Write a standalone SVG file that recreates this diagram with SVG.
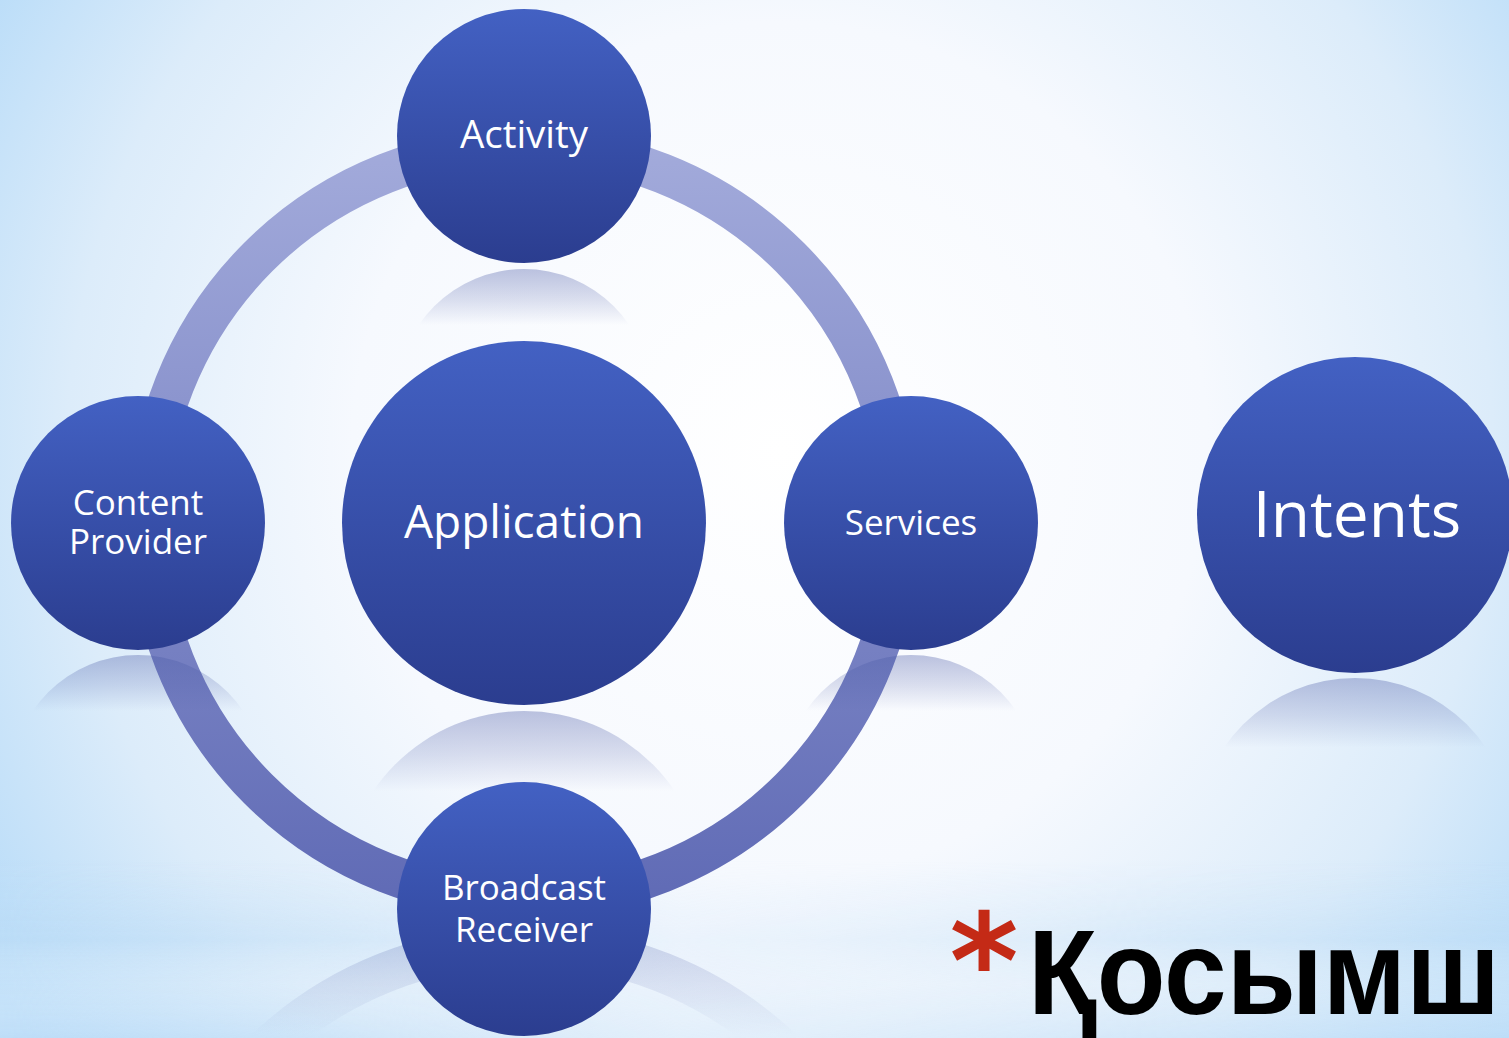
<svg xmlns="http://www.w3.org/2000/svg" width="1509" height="1038" viewBox="0 0 1509 1038">
  <defs>
    <radialGradient id="bg" gradientUnits="userSpaceOnUse" cx="780" cy="450" r="950">
      <stop offset="0" stop-color="#ffffff"/>
      <stop offset="0.45" stop-color="#f6f9fe"/>
      <stop offset="0.75" stop-color="#dcecfa"/>
      <stop offset="1" stop-color="#b4daf8"/>
    </radialGradient>
    <linearGradient id="band" x1="0" y1="0" x2="0" y2="1">
      <stop offset="0" stop-color="#c2e0f8" stop-opacity="0"/>
      <stop offset="0.45" stop-color="#bcdcf6" stop-opacity="0.6"/>
      <stop offset="0.7" stop-color="#e8f3fc" stop-opacity="0.3"/>
      <stop offset="1" stop-color="#c2dff8" stop-opacity="0.7"/>
    </linearGradient>
    <linearGradient id="bandMaskGrad" x1="0" y1="0" x2="1" y2="0">
      <stop offset="0" stop-color="#fff" stop-opacity="1"/>
      <stop offset="0.45" stop-color="#fff" stop-opacity="0.15"/>
      <stop offset="1" stop-color="#fff" stop-opacity="0.8"/>
    </linearGradient>
    <mask id="bandMask" maskUnits="userSpaceOnUse" x="0" y="860" width="1509" height="178">
      <rect x="0" y="860" width="1509" height="178" fill="url(#bandMaskGrad)"/>
    </mask>
    <linearGradient id="nodeFill" x1="0" y1="0" x2="0" y2="1">
      <stop offset="0" stop-color="#4361c3"/>
      <stop offset="1" stop-color="#2b3d8f"/>
    </linearGradient>
    <linearGradient id="reflFill" x1="0" y1="0" x2="0" y2="1">
      <stop offset="0" stop-color="#4a5aa6" stop-opacity="0.36"/>
      <stop offset="0.12" stop-color="#4a5aa6" stop-opacity="0.18"/>
      <stop offset="0.22" stop-color="#4a5aa6" stop-opacity="0"/>
    </linearGradient>
    <linearGradient id="ringStroke" gradientUnits="userSpaceOnUse" x1="0" y1="140" x2="0" y2="910">
      <stop offset="0" stop-color="#a3abdb"/>
      <stop offset="1" stop-color="#5f6ab5"/>
    </linearGradient>
    <linearGradient id="ringRefl" gradientUnits="userSpaceOnUse" x1="0" y1="925" x2="0" y2="1035">
      <stop offset="0" stop-color="#5a68ae" stop-opacity="0.28"/>
      <stop offset="1" stop-color="#5a68ae" stop-opacity="0"/>
    </linearGradient>
    <style>
      .node { fill: url(#nodeFill); }
      .refl { fill: url(#reflFill); }
      .lbl { font-family: "Open Sans", "Noto Sans", "DejaVu Sans", sans-serif; fill: #ffffff; text-anchor: middle; font-size: 35px; }
    </style>
  </defs>

  <!-- background -->
  <rect x="0" y="0" width="1509" height="1038" fill="url(#bg)"/>
  <rect x="0" y="860" width="1509" height="178" fill="url(#band)" mask="url(#bandMask)"/>

  <!-- connectors: ring and its reflection -->
  <g id="connectors">
    <circle cx="524" cy="1322" r="376" fill="none" stroke="url(#ringRefl)" stroke-width="40"/>
    <circle cx="524" cy="523" r="376" fill="none" stroke="url(#ringStroke)" stroke-width="40"/>
  </g>

  <!-- reflections -->
  <g id="reflections">
    <circle class="refl" cx="524" cy="396" r="127"/>
    <circle class="refl" cx="524" cy="893" r="182"/>
    <circle class="refl" cx="138" cy="782" r="127"/>
    <circle class="refl" cx="911" cy="782" r="127"/>
    <circle class="refl" cx="1355" cy="836" r="158"/>
  </g>

  <g id="activity">
    <circle class="node" cx="524" cy="136" r="127"/>
    <text class="lbl" x="524" y="148" style="font-size:38.5px">Activity</text>
  </g>
  <g id="application">
    <circle class="node" cx="524" cy="523" r="182"/>
    <text class="lbl" x="524" y="538" style="font-size:46px">Application</text>
  </g>
  <g id="content-provider">
    <circle class="node" cx="138" cy="523" r="127"/>
    <text class="lbl" x="138" y="515">Content</text>
    <text class="lbl" x="138" y="554">Provider</text>
  </g>
  <g id="services">
    <circle class="node" cx="911" cy="523" r="127"/>
    <text class="lbl" x="911" y="535">Services</text>
  </g>
  <g id="broadcast-receiver">
    <circle class="node" cx="524" cy="909" r="127"/>
    <text class="lbl" x="524" y="900">Broadcast</text>
    <text class="lbl" x="524" y="942">Receiver</text>
  </g>
  <g id="intents">
    <circle class="node" cx="1355" cy="515" r="158"/>
    <text class="lbl" x="1357" y="537" style="font-size:64px">Intents</text>
  </g>

  <!-- title -->
  <g id="title">
    <text x="984" y="1008" font-family="DejaVu Sans, sans-serif" font-weight="bold" font-size="132" fill="#c42a16" text-anchor="middle">*</text>
    <text x="1028" y="1014" font-family="Liberation Sans, Arial, sans-serif" font-weight="bold" font-size="120" fill="#000000" textLength="472" lengthAdjust="spacingAndGlyphs">Қосымш</text>
  </g>
</svg>
